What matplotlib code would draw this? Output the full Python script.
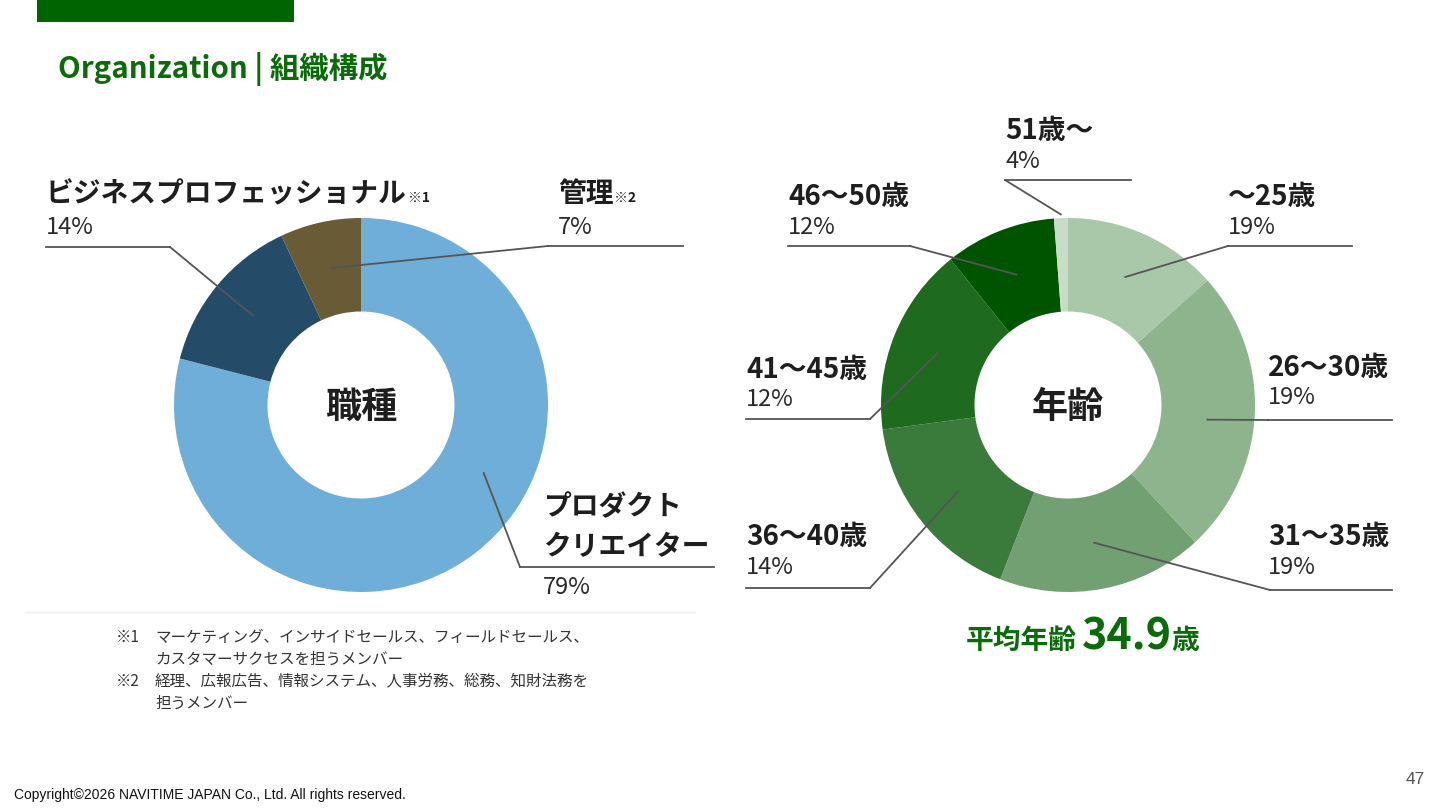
import matplotlib
matplotlib.use('Agg')
import matplotlib.pyplot as plt
from matplotlib.patches import Rectangle
import numpy as np

plt.rcParams['font.family'] = ['Noto Sans CJK JP', 'DejaVu Sans']

# data
job_names = ['プロダクト\nクリエイター', 'ビジネスプロフェッショナル', '管理']
job_pct = [79, 14, 7]
job_notes = ['', '※1', '※2']
job_colors = ['#6EAED9', '#244C69', '#695B36']

age_names = ['〜25歳', '26〜30歳', '31〜35歳', '36〜40歳', '41〜45歳', '46〜50歳', '51歳〜']
age_pct = [19, 19, 19, 14, 12, 12, 4]                   # printed labels
age_share = [13.4, 24.7, 17.8, 17.0, 16.3, 9.6, 1.2]    # wedge sizes as drawn
age_colors = ['#A9C8A9', '#8EB48E', '#72A072', '#3A7B3B', '#1E6A1E', '#005400', '#C8DCC8']
avg_age = 34.9

footnotes = [('※1', ['マーケティング、インサイドセールス、フィールドセールス、',
                     'カスタマーサクセスを担うメンバー']),
             ('※2', ['経理、広報広告、情報システム、人事労務、総務、知財法務を',
                     '担うメンバー'])]

W, H = 1440, 810
GREEN = '#0B6B0B'
INK = '#1E1E1E'
LINE = '#555555'
DY_NAME, DY_PCT = 2, 1

fig = plt.figure(figsize=(14.4, 8.1), dpi=100)
fig.patch.set_facecolor('white')

ov = fig.add_axes([0, 0, 1, 1], zorder=5)
ov.set_xlim(0, W)
ov.set_ylim(H, 0)
ov.axis('off')
ov.patch.set_alpha(0)


def donut(cx, cy, R, sizes, colors):
    ax = fig.add_axes([(cx - R) / W, (H - cy - R) / H, 2 * R / W, 2 * R / H], zorder=2)
    wedges, _ = ax.pie(sizes, colors=colors, startangle=90, counterclock=False,
                       radius=1, wedgeprops=dict(width=0.5, edgecolor='none'))
    ax.set_xlim(-1, 1)
    ax.set_ylim(-1, 1)
    ax.set_aspect('equal')
    ax.axis('off')
    return wedges


def anchor(w, cx, cy, R, rr=0.75, top_deg=None):
    if top_deg is None:
        m = np.deg2rad((w.theta1 + w.theta2) / 2)
    else:
        m = np.deg2rad(90 - top_deg)
    return cx + rr * R * np.cos(m), cy - rr * R * np.sin(m)


def leader(p, elbow_x, line_y, x0, x1):
    ov.plot([p[0], elbow_x], [p[1], line_y], color=LINE, lw=1.3, clip_on=False)
    ov.plot([x0, x1], [line_y, line_y], color=LINE, lw=1.3, clip_on=False)


# header
ov.add_patch(Rectangle((37, 0), 257, 22, color='#006400', lw=0))
ov.text(58, 69, 'Organization | 組織構成', fontsize=21.2, fontweight='bold',
        color=GREEN, va='center', ha='left')

# faint panel line under left chart
ov.plot([25, 695], [612, 612], color='#EDEDED', lw=1)

# left donut
LCX, LCY, LR = 361, 405, 187
jw = donut(LCX, LCY, LR, job_pct, job_colors)
ov.text(LCX, LCY + 2, '職種', fontsize=26, fontweight='bold', color=INK, ha='center', va='center')

# (text x, name y, pct y, line y, line x0, line x1, elbow x, anchor angle)
job_layout = [
    (543, [505, 545], 587, 567, 520, 714, 520, 119),
    (46, [192], 226, 247, 46, 170, 170, None),
    (558, [192], 226, 246, 548, 683, 548, None),
]
fig.canvas.draw()
rend = fig.canvas.get_renderer()
inv = ov.transData.inverted()
for w, name, pct, note, lay in zip(jw, job_names, job_pct, job_notes, job_layout):
    tx, ny, py, ly, x0, x1, ex, ang = lay
    for line, y in zip(name.split('\n'), ny):
        t = ov.text(tx, y + DY_NAME, line, fontsize=20, fontweight='bold', color=INK,
                    va='center', ha='left')
    if note:
        bb = t.get_window_extent(renderer=rend)
        xr = inv.transform((bb.x1, bb.y0))[0]
        ov.text(xr + 1, ny[-1] + 6, note, fontsize=10, fontweight='bold', color=INK,
                va='center', ha='left')
    ov.text(tx, py + DY_PCT, f'{pct}%', fontsize=17, fontweight='normal', color='#2A2A2A',
            va='center', ha='left')
    leader(anchor(w, LCX, LCY, LR, top_deg=ang), ex, ly, x0, x1)

# right donut
RCX, RCY, RR = 1068, 405, 187
aw = donut(RCX, RCY, RR, age_share, age_colors)
ov.text(RCX, RCY + 2, '年齢', fontsize=26, fontweight='bold', color=INK, ha='center', va='center')

age_layout = [
    (1228, 195, 226, 246, 1228, 1352, 1228, 0.75, None),
    (1268, 366, 397, 420, 1268, 1392, 1268, 0.75, 96),
    (1268, 535, 566, 590, 1270, 1392, 1270, 0.75, None),
    (746, 535, 566, 588, 746, 870, 870, 0.75, None),
    (746, 368, 399, 419, 746, 870, 870, 0.75, None),
    (788, 195, 226, 246, 788, 910, 910, 0.75, None),
    (1005, 129, 160, 180, 1005, 1131, 1005, 1.02, None),
]
for w, name, pct, lay in zip(aw, age_names, age_pct, age_layout):
    tx, ny, py, ly, x0, x1, ex, rr, ang = lay
    ov.text(tx, ny + DY_NAME, name, fontsize=20, fontweight='bold', color=INK,
            va='center', ha='left')
    ov.text(tx, py + DY_PCT, f'{pct}%', fontsize=17, fontweight='normal', color='#2A2A2A',
            va='center', ha='left')
    leader(anchor(w, RCX, RCY, RR, rr=rr, top_deg=ang), ex, ly, x0, x1)

# average age
x = 966
for s, fs, gap in [('平均年齢', 20, 5), (f'{avg_age}', 31, -1), ('歳', 20, 0)]:
    t = ov.text(x, 649, s, fontsize=fs, fontweight='bold', color=GREEN, va='baseline', ha='left')
    bb = t.get_window_extent(renderer=rend)
    x = inv.transform((bb.x1, bb.y0))[0] + gap

# footnotes
y = 637
for mark, lines in footnotes:
    ov.text(116, y, mark, fontsize=11.2, color='#333333', va='center', ha='left')
    for ln in lines:
        ov.text(155, y, ln, fontsize=11.2, color='#333333', va='center', ha='left')
        y += 22

# footer
ov.text(14, 795, 'Copyright©2026 NAVITIME JAPAN Co., Ltd. All rights reserved.',
        fontsize=10, family='Liberation Sans', color='#111111', va='center', ha='left')
ov.text(1415, 779, '47', fontsize=12.5, family='Liberation Sans', color='#555555',
        va='center', ha='center')

fig.savefig('out.png', dpi=100, facecolor='white')
